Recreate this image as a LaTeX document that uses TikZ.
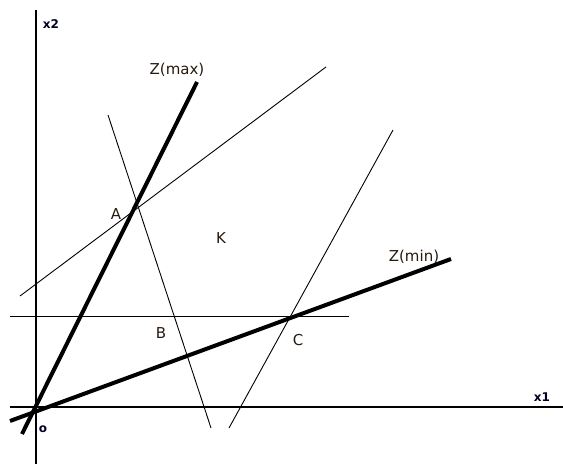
\documentclass[tikz,border=0pt]{standalone}
\usepackage{fontspec}
\setmainfont{DejaVu Sans}
\begin{document}
\begin{tikzpicture}[x=1pt,y=-1pt,
  axis/.style={line width=1.3pt},
  thin/.style={line width=0.9pt},
  thickline/.style={line width=4pt},
  lbl/.style={font=\fontsize{15}{17}\selectfont, text=black!80!brown, inner sep=0pt},
  axlbl/.style={font=\bfseries\fontsize{12}{14}\selectfont, text=black!85!blue, inner sep=0pt}]
\useasboundingbox (0,0) rectangle (563,465);
% axes
\coordinate (x2top) at (36,10);
\coordinate (x2bot) at (36,464);
\coordinate (x1left) at (10,407);
\coordinate (x1right) at (563,407);
\draw[axis] (x2top) -- (x2bot);
\draw[axis] (x1left) -- (x1right);
% thin constraint lines
\coordinate (l1a) at (20,296);  \coordinate (l1b) at (326,67);
\coordinate (l2a) at (108,115); \coordinate (l2b) at (211,428);
\coordinate (l3a) at (393,130); \coordinate (l3b) at (229,428);
\coordinate (l4a) at (10,316);  \coordinate (l4b) at (349,316);
\draw[thin] (l1a) -- (l1b);
\draw[thin] (l2a) -- (l2b);
\draw[thin] (l3a) -- (l3b);
\draw[thin] (l4a) -- (l4b);
% objective lines
\coordinate (zmaxa) at (22,434); \coordinate (zmaxb) at (197,82);
\coordinate (zmina) at (10,421); \coordinate (zminb) at (451,259);
\draw[thickline] (zmaxa) -- (zmaxb);
\draw[thickline] (zmina) -- (zminb);
% labels
\node[axlbl] (lx2) at (51,24) {x2};
\node[axlbl] (lx1) at (542,397) {x1};
\node[axlbl] (lo) at (43,429) {o};
\node[lbl] (lzmax) at (177,70) {Z(max)};
\node[lbl] (lzmin) at (414,257) {Z(min)};
\node[lbl] (lA) at (116,214) {A};
\node[lbl] (lK) at (221,238) {K};
\node[lbl] (lB) at (161,333) {B};
\node[lbl] (lC) at (298,340) {C};
\end{tikzpicture}
\end{document}
